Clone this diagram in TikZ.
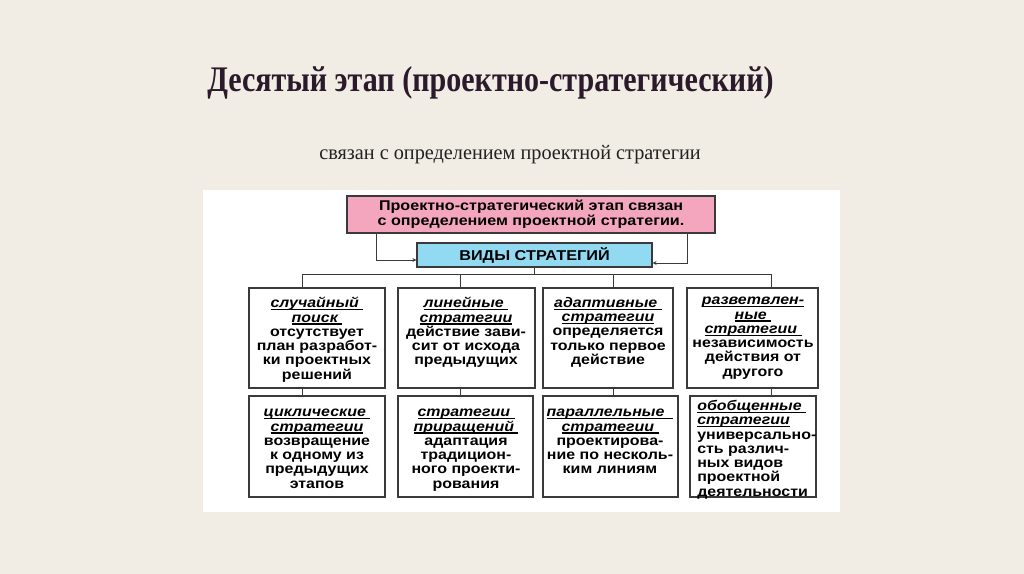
\documentclass[tikz,border=0pt]{standalone}
\usepackage{fontspec}
\setmainfont{Liberation Serif}
\newfontfamily\titlefont[FakeStretch=0.835]{Liberation Serif}
\newfontfamily\subfont[FakeStretch=0.98]{Liberation Serif}
\newfontfamily\df[FakeStretch=1.14]{Liberation Sans}
\usetikzlibrary{fit,arrows.meta}
\definecolor{bgc}{HTML}{F1EDE5}
\definecolor{titlec}{HTML}{2B1A2B}
\definecolor{subc}{HTML}{222222}
\definecolor{pinkc}{HTML}{F5A6BF}
\definecolor{cyanc}{HTML}{92DAF2}
\definecolor{linec}{HTML}{3A3A3A}
\newcommand\hd[1]{\setbox0\hbox{\itshape #1}\rlap{\rule[-2pt]{\wd0}{1pt}}\box0}
\tikzset{
  box/.style={draw=linec, line width=0.9pt, fill=white, inner sep=0pt},
  txt/.style={font=\df\bfseries\fontsize{10.5}{10.7}\selectfont, align=center, inner sep=0pt, anchor=north, text=black},
  conn/.style={draw=linec, line width=0.7pt},
  arr/.style={conn, -{Stealth[length=3pt,width=3pt]}}
}
\begin{document}
\begin{tikzpicture}[x=0.75pt,y=-0.75pt]
\fill[bgc] (0,0) rectangle (1024,574);
\useasboundingbox (0,0) rectangle (1024,574);
\fill[white] (203,190) rectangle (840,512);

\node[anchor=base west, inner sep=0pt, text=titlec, font=\titlefont\bfseries\fontsize{27}{30}\selectfont] (title) at (207,92) {Десятый этап (проектно-стратегический)};
\node[anchor=base, inner sep=0pt, text=subc, font=\subfont\fontsize{15.5}{18}\selectfont] (sub) at (510,160) {связан с определением проектной стратегии};

\node[draw=linec, line width=0.9pt, fill=pinkc, minimum width=276pt, minimum height=27.75pt, inner sep=0pt, font=\df\bfseries\fontsize{10.6}{11.25}\selectfont, align=center] (pink) at (531,214.5) {Проектно-стратегический этап связан\\с определением проектной стратегии.};
\node[draw=linec, line width=0.9pt, fill=cyanc, minimum width=176.25pt, minimum height=18pt, inner sep=0pt, font=\df\bfseries\fontsize{10.7}{11}\selectfont] (cyan) at (534.5,255) {ВИДЫ СТРАТЕГИЙ};

\coordinate (xl) at (376,0);
\coordinate (xr) at (687,0);
\draw[arr] (pink.south -| xl) |- ([yshift=-3.75pt]cyan.west);
\draw[arr] (pink.south -| xr) |- ([yshift=-6pt]cyan.east);

% boxes
\node[box, fit={(249,288)(385,388)}] (a1) {};
\node[box, fit={(398,288)(535,388)}] (a2) {};
\node[box, fit={(543,288)(673,388)}] (a3) {};
\node[box, fit={(687,288)(818,388)}] (a4) {};
\node[box, fit={(249,396)(385,497)}] (b1) {};
\node[box, fit={(398,396)(533,497)}] (b2) {};
\node[box, fit={(543,396)(678,497)}] (b3) {};
\node[box, fit={(690,396)(816,497)}] (b4) {};

\coordinate (c1) at (302,0);
\coordinate (c2) at (460,0);
\coordinate (c3) at (613,0);
\coordinate (c4) at (771,0);
\coordinate (hy) at (0,274);
\draw[conn] (cyan.south) -- (cyan.south |- hy);
\draw[conn] (c1 |- hy) -- (c4 |- hy);
\foreach \c/\a/\b in {c1/a1/b1,c2/a2/b2,c3/a3/b3,c4/a4/b4}{
  \draw[conn] (\c |- hy) -- (\c |- \a.north);
  \draw[conn] (\c |- \a.south) -- (\c |- \b.north);
}

% texts top row
\node[txt] (ta1) at (317,297) {\hd{случайный\ }\\\hd{поиск\ }\\отсутствует\\план разработ-\\ки проектных\\решений};
\node[txt] (ta2) at (466,297) {\hd{линейные\ }\\\hd{стратегии}\\действие зави-\\сит от исхода\\предыдущих};
\node[txt] (ta3) at (608,297) {\hd{адаптивные\ }\\\hd{стратегии}\\определяется\\только первое\\действие};
\node[txt] (ta4) at (753,297) {\hd{разветвлен-}\\\hd{ные\ }\\\hd{стратегии\ }\\независимость\\действия от\\другого};
% texts bottom row
\node[txt] (tb1) at (317,409) {\hd{циклические\ }\\\hd{стратегии}\\возвращение\\к одному из\\предыдущих\\этапов};
\node[txt] (tb2) at (466,409) {\hd{стратегии\ }\\\hd{приращений\ }\\адаптация\\традицион-\\ного проекти-\\рования};
\node[txt] (tb3) at (610,409) {\hd{параллельные\ \ }\\\hd{стратегии\ }\\проектирова-\\ние по несколь-\\ким линиям};
\node[txt, align=left, anchor=north west] (tb4) at (697,400) {\hd{обобщенные\ }\\\hd{стратегии}\\универсально-\\сть различ-\\ных видов\\проектной\\деятельности};
\end{tikzpicture}
\end{document}
